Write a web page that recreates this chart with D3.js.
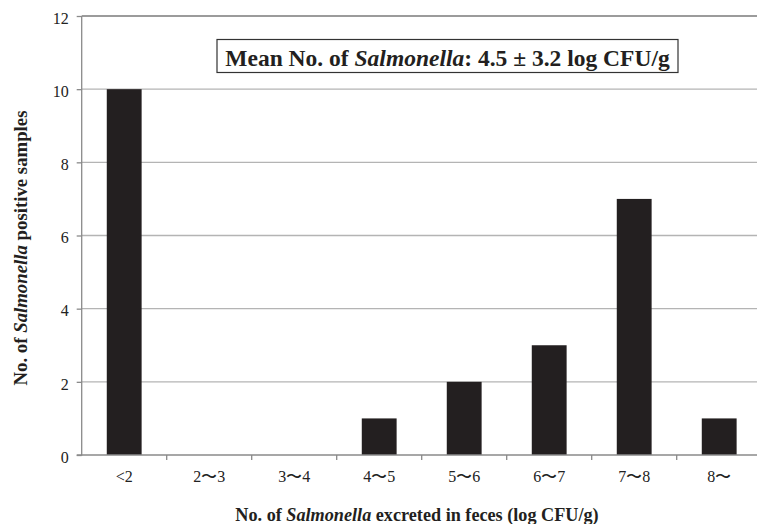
<!DOCTYPE html>
<html><head><meta charset="utf-8">
<script src="https://cdn.jsdelivr.net/npm/d3@7"></script>
<style>body{margin:0;background:#fff}svg{display:block}</style>
</head><body>
<script>
const categories = ["<2","2〜3","3〜4","4〜5","5〜6","6〜7","7〜8","8〜"];
const values = [10,0,0,1,2,3,7,1];
const yTicks = [0,2,4,6,8,10,12];

const W = 757, H = 524;
const mLeft = 81.7, mRight = 761.7, mTop = 16, mBottom = 455;
const svg = d3.select("body").append("svg").attr("width", W).attr("height", H);
const serif = "'Liberation Serif','Times New Roman',serif";

const x = d3.scaleBand().domain(categories).range([mLeft, mRight]).paddingInner(0.59).paddingOuter(0.295);
const y = d3.scaleLinear().domain([0, 12]).range([mBottom, mTop]);

// gridlines
svg.append("g").selectAll("line").data(yTicks.filter(d => d > 0)).join("line")
  .attr("x1", mLeft).attr("x2", mRight)
  .attr("y1", d => y(d)).attr("y2", d => y(d))
  .attr("stroke", d => d === 12 ? "#7a7a7a" : "#b4b4b4").attr("stroke-width", 1.3);

// bars
svg.append("g").selectAll("rect").data(values).join("rect")
  .attr("x", (d, i) => x(categories[i]))
  .attr("width", x.bandwidth())
  .attr("y", d => y(d))
  .attr("height", d => y(0) - y(d))
  .attr("fill", "#231f20");

// y axis
const yAxis = d3.axisLeft(y).tickValues(yTicks).tickSize(5).tickPadding(8);
const gy = svg.append("g").attr("transform", `translate(${mLeft},0)`).call(yAxis);
gy.select(".domain").attr("stroke", "#8a8a8a").attr("stroke-width", 1.3).attr("d", `M-5,${mBottom}H0V${mTop}`);
gy.selectAll(".tick line").attr("stroke", "#8a8a8a").attr("stroke-width", 1.3);
gy.selectAll(".tick text").attr("font-family", serif).attr("font-size", 16).attr("fill", "#222").attr("dy", "0.45em");

// x axis
const xAxis = d3.axisBottom(x).tickSize(0).tickPadding(16);
const gx = svg.append("g").attr("transform", `translate(0,${mBottom})`).call(xAxis);
gx.select(".domain").attr("stroke", "#8a8a8a").attr("stroke-width", 1.3).attr("d", `M${mLeft},0H${mRight}`);
gx.selectAll(".tick text").attr("font-family", serif).attr("font-size", 16).attr("fill", "#222");
// boundary ticks
const bounds = categories.map(c => x(c) + x.bandwidth() / 2 + x.step() / 2);
gx.append("g").selectAll("line").data(bounds).join("line")
  .attr("x1", d => d).attr("x2", d => d).attr("y1", 0).attr("y2", 5)
  .attr("stroke", "#8a8a8a").attr("stroke-width", 1.3);

// annotation box
const note = svg.append("text").attr("x", 447.5).attr("y", 66).attr("text-anchor", "middle")
  .attr("font-family", serif).attr("font-weight", "bold").attr("font-size", 23.5).attr("fill", "#231f20");
note.append("tspan").text("Mean No. of ");
note.append("tspan").attr("font-style", "italic").text("Salmonella");
note.append("tspan").text(": 4.5 ± 3.2 log CFU/g");
svg.append("rect").attr("x", 217).attr("y", 39.5).attr("width", 461).attr("height", 33)
  .attr("fill", "none").attr("stroke", "#333").attr("stroke-width", 1.2);

// x title
const xt = svg.append("text").attr("x", 417).attr("y", 521).attr("text-anchor", "middle")
  .attr("font-family", serif).attr("font-weight", "bold").attr("font-size", 18.2).attr("fill", "#231f20");
xt.append("tspan").text("No. of ");
xt.append("tspan").attr("font-style", "italic").text("Salmonella");
xt.append("tspan").text(" excreted in feces (log CFU/g)");

// y title
const yt = svg.append("text").attr("transform", "translate(27,248) rotate(-90)").attr("text-anchor", "middle")
  .attr("font-family", serif).attr("font-weight", "bold").attr("font-size", 18.8).attr("fill", "#231f20");
yt.append("tspan").text("No. of ");
yt.append("tspan").attr("font-style", "italic").text("Salmonella");
yt.append("tspan").text(" positive samples");
</script>
</body></html>
